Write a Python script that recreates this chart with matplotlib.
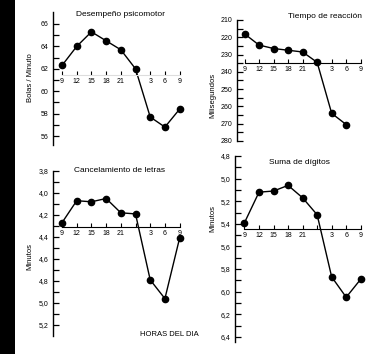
import numpy as np
import matplotlib
matplotlib.use("Agg")
from matplotlib import pyplot as plt
from matplotlib.patches import Rectangle

plt.rcParams['font.family'] = ['Liberation Sans Narrow', 'Liberation Sans', 'DejaVu Sans']

# hours of day (24 -> 27 -> 30 -> 33 stands for 3, 6, 9 next morning)
hours = [9, 12, 15, 18, 21, 24, 27, 30, 33]
hour_labels = ["9", "12", "15", "18", "21", "", "3", "6", "9"]

psico = [62.3, 64.0, 65.3, 64.5, 63.7, 62.0, 57.7, 56.8, 58.4]
reaccion = [218, 224.5, 226.5, 227.5, 228.5, 234.5, 264, 270.5]
letras = [4.27, 4.07, 4.08, 4.05, 4.18, 4.19, 4.79, 4.96, 4.41]
digitos = [5.39, 5.12, 5.11, 5.06, 5.17, 5.32, 5.87, 6.05, 5.89]

psico_ticks = [56, 58, 60, 62, 64, 66]
reaccion_ticks = [210, 220, 230, 240, 250, 260, 270, 280]
letras_ticks = [3.8, 4.0, 4.2, 4.4, 4.6, 4.8, 5.0, 5.2]
digitos_ticks = [4.8, 5.0, 5.2, 5.4, 5.6, 5.8, 6.0, 6.2, 6.4]

W, H = 385, 354
fig = plt.figure(figsize=(W / 100, H / 100), dpi=100)
fig.patches.append(Rectangle((0, 0), 15 / W, 1, transform=fig.transFigure,
                             facecolor='black', edgecolor='none'))


def make_axes(x0, x1, y0, y1):
    return fig.add_axes([x0 / W, 1 - y1 / H, (x1 - x0) / W, (y1 - y0) / H])


def panel(ax, x, y, xlim, ylim, yticks, ylabels, axis_y, title, title_xy,
          ylabel, ylabel_xy, line_visible=True):
    ax.plot(x, y, color='black', lw=1.0, marker='o', ms=4.5)
    ax.set_xlim(*xlim)
    ax.set_ylim(*ylim)
    for s in ['top', 'right']:
        ax.spines[s].set_visible(False)
    ax.spines['left'].set_linewidth(1.0)
    ax.spines['bottom'].set_position(('data', axis_y))
    ax.spines['bottom'].set_bounds(9, 33)
    ax.spines['bottom'].set_linewidth(0.8)
    if not line_visible:
        ax.spines['bottom'].set_color('#dddddd')
    ax.set_xticks(hours)
    ax.set_xticklabels(hour_labels)
    ax.tick_params(axis='x', direction='in', length=3, width=0.8, pad=2,
                   labelsize=5, color='black')
    ax.set_yticks(yticks)
    ax.set_yticklabels(ylabels)
    mids = [(a + b) / 2 for a, b in zip(yticks[:-1], yticks[1:])]
    ax.set_yticks(mids, minor=True)
    ax.tick_params(axis='y', which='major', direction='in', length=4, width=0.9,
                   pad=3, labelsize=5)
    ax.tick_params(axis='y', which='minor', direction='in', length=4, width=0.9)
    ax.patch.set_alpha(0)
    fig.text(title_xy[0] / W, 1 - title_xy[1] / H, title, fontsize=6,
             ha='center', va='center')
    fig.text(ylabel_xy[0] / W, 1 - ylabel_xy[1] / H, ylabel, fontsize=5.5,
             ha='center', va='center', rotation=90)


ax1 = make_axes(53, 185, 12, 145)
panel(ax1, hours, psico, (7.16, 34.1), (55.2, 67.07), psico_ticks,
      [str(v) for v in psico_ticks], 61.45, "Desempeño psicomotor", (121, 15),
      "Bolas / Minuto", (30, 78), line_visible=False)

ax2 = make_axes(237, 368, 20, 141)
panel(ax2, hours[:8], reaccion, (7.45, 34.5), (280, 210), reaccion_ticks,
      [str(v) for v in reaccion_ticks], 234.9, "Tiempo de reacción", (325, 16),
      "Milisegundos", (213, 95))

ax3 = make_axes(53, 185, 171, 336)
panel(ax3, hours, letras, (7.16, 34.1), (5.3, 3.8), letras_ticks,
      [f"{v:.1f}".replace('.', ',') for v in letras_ticks], 4.31,
      "Cancelamiento de letras", (120, 170), "Minutos", (30, 256))

ax4 = make_axes(235, 368, 156, 342)
panel(ax4, hours, digitos, (7.04, 34.5), (6.446, 4.8), digitos_ticks,
      [f"{v:.1f}".replace('.', ',') for v in digitos_ticks], 5.446,
      "Suma de dígitos", (299, 163), "Minutos", (213, 218))

fig.text(169 / W, 1 - 334 / H, "HORAS DEL DIA", fontsize=5.5,
         ha='center', va='center')

fig.savefig("out.png", dpi=100)
